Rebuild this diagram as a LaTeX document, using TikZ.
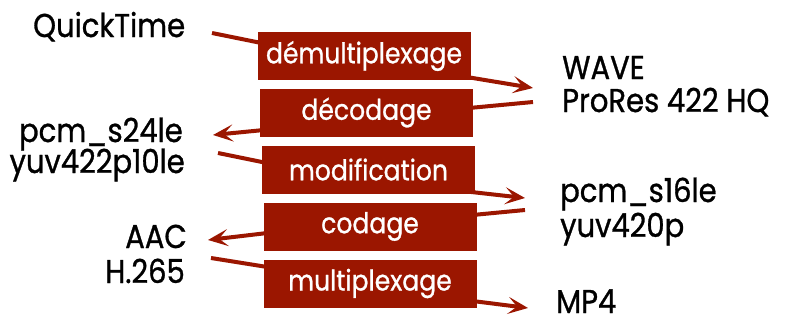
\documentclass[tikz,border=0pt]{standalone}
\usepackage{fontspec}
\setmainfont{Poppins}[FakeStretch=0.88,FakeBold=0.9]
\usetikzlibrary{calc,arrows.meta,backgrounds}
\definecolor{boxred}{RGB}{155,22,0}
\begin{document}
\begin{tikzpicture}[x=1pt,y=-1pt,
  lbl/.style={inner sep=0pt,font=\fontsize{33}{33}\selectfont,text=black},
  stage/.style={fill=boxred,minimum width=213pt,minimum height=48pt,inner sep=0pt,
    text=white,font=\fontsize{28.5}{28.5}\selectfont},
  flow/.style={draw=boxred,line width=4pt},
  flowarr/.style={flow,-{Stealth[length=20pt,width=17pt,inset=9pt]}}]
\useasboundingbox (0,0) rectangle (789,324);
% stage boxes
\node[stage] (b1) at (364,56) {démultiplexage};
\node[stage] (b2) at (366.5,112.5) {décodage};
\node[stage] (b3) at (368.5,169.5) {modification};
\node[stage] (b4) at (370,226.5) {codage};
\node[stage] (b5) at (370,283.5) {multiplexage};
% labels
\node[lbl,anchor=base west] (qt) at (33,37) {QuickTime};
\node[lbl,anchor=base west] (wave) at (562,79) {WAVE};
\node[lbl,anchor=base west] (prores) at (562,112) {ProRes 422 HQ};
\node[lbl,anchor=base east] (pcm24) at (183,142) {pcm\_s24le};
\node[lbl,anchor=base east] (yuv422) at (185,173) {yuv422p10le};
\node[lbl,anchor=base west] (pcm16) at (560,202) {pcm\_s16le};
\node[lbl,anchor=base west] (yuv420) at (560,237) {yuv420p};
\node[lbl,anchor=base east] (aac) at (187,248) {AAC};
\node[lbl,anchor=base east] (hevc) at (185,283) {H.265};
\node[lbl,anchor=base west,text depth=0pt] (mp4) at (556,313) {MP4};
% free ends
\coordinate (c1) at (212,33);
\coordinate (c2) at (533,88);
\coordinate (c3) at (533,102);
\coordinate (c4) at (213,135);
\coordinate (c5) at (218,153);
\coordinate (c6) at (525,198);
\coordinate (c7) at (525,210);
\coordinate (c8) at (208,240);
\coordinate (c9) at (211,258);
\coordinate (c10) at (528,308);
\begin{scope}[on background layer]
\draw[flow] (c1) -- ($(b1.west)+(4,-13)$);
\draw[flowarr] ($(b1.east)+(-4,21)$) -- (c2);
\draw[flow] (c3) -- ($(b2.east)+(-4,-4.5)$);
\draw[flowarr] ($(b2.west)+(4,17.5)$) -- (c4);
\draw[flow] (c5) -- ($(b3.west)+(5,-6.5)$);
\draw[flowarr] ($(b3.east)+(-4,22.5)$) -- (c6);
\draw[flow] (c7) -- ($(b4.east)+(-4,-11.5)$);
\draw[flowarr] ($(b4.west)+(4,6.5)$) -- (c8);
\draw[flow] (c9) -- ($(b5.west)+(4,-16.5)$);
\draw[flowarr] ($(b5.east)+(-4,17.5)$) -- (c10);
\end{scope}
\end{tikzpicture}
\end{document}
